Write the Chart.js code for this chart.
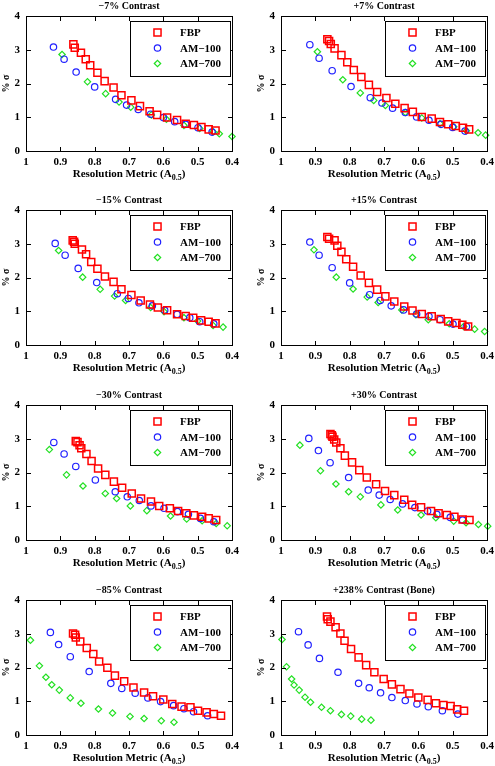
<!DOCTYPE html>
<html>
<head>
<meta charset="utf-8">
<script src="https://cdn.jsdelivr.net/npm/chart.js@4.4.0/dist/chart.umd.min.js"></script>
<style>
body { margin: 0; background: #fff; width: 495px; height: 766px; position: relative; overflow: hidden; }
canvas { position: absolute; }
.axbox { position: absolute; box-sizing: border-box; border: 1px solid #000; pointer-events: none; }
</style>
</head>
<body>
<script>
const seriesNames = ['FBP', 'AM\u2212100', 'AM\u2212700'];
const panelTitles = ['\u22127% Contrast', '+7% Contrast', '\u221215% Contrast', '+15% Contrast',
                     '\u221230% Contrast', '+30% Contrast', '\u221285% Contrast', '+238% Contrast (Bone)'];
const xTicks = [1, 0.9, 0.8, 0.7, 0.6, 0.5, 0.4];
const yTicks = [0, 1, 2, 3, 4];

// [resolution metric, % sigma]
const neg7_fbp = [[0.862,3.16],[0.858,3.06],[0.840,2.91],[0.826,2.72],[0.813,2.54],[0.792,2.32],[0.771,2.07],[0.745,1.88],[0.722,1.65],[0.693,1.50],[0.668,1.33],[0.640,1.18],[0.618,1.07],[0.589,0.99],[0.560,0.92],[0.535,0.81],[0.511,0.77],[0.489,0.71],[0.468,0.64],[0.448,0.61]];
const neg7_am100 = [[0.920,3.08],[0.889,2.72],[0.854,2.34],[0.800,1.90],[0.739,1.53],[0.707,1.36],[0.673,1.23],[0.637,1.09],[0.600,0.99],[0.567,0.87],[0.535,0.79],[0.499,0.69],[0.458,0.56]];
const neg7_am700 = [[0.895,2.86],[0.821,2.05],[0.768,1.70],[0.729,1.45],[0.695,1.30],[0.635,1.07],[0.591,0.94],[0.540,0.76],[0.494,0.67],[0.455,0.57],[0.437,0.51],[0.400,0.43]];

const pos7_fbp = [[0.865,3.31],[0.860,3.26],[0.855,3.17],[0.844,3.04],[0.824,2.84],[0.807,2.63],[0.788,2.40],[0.766,2.19],[0.744,1.96],[0.720,1.75],[0.693,1.57],[0.667,1.40],[0.640,1.27],[0.616,1.16],[0.590,1.01],[0.561,0.96],[0.537,0.86],[0.513,0.79],[0.491,0.74],[0.470,0.69],[0.452,0.64]];
const pos7_am100 = [[0.916,3.15],[0.889,2.75],[0.851,2.38],[0.796,1.91],[0.740,1.58],[0.706,1.42],[0.675,1.27],[0.638,1.14],[0.605,1.01],[0.569,0.91],[0.534,0.79],[0.500,0.70],[0.464,0.59]];
const pos7_am700 = [[0.894,2.94],[0.820,2.11],[0.769,1.72],[0.730,1.50],[0.696,1.35],[0.638,1.14],[0.590,0.98],[0.537,0.81],[0.497,0.72],[0.460,0.60],[0.426,0.54],[0.404,0.47]];

const neg15_fbp = [[0.864,3.10],[0.860,3.06],[0.858,3.00],[0.837,2.83],[0.825,2.69],[0.810,2.46],[0.792,2.26],[0.770,2.03],[0.745,1.87],[0.722,1.65],[0.693,1.48],[0.666,1.32],[0.639,1.20],[0.616,1.11],[0.589,1.03],[0.560,0.91],[0.535,0.86],[0.513,0.81],[0.490,0.73],[0.468,0.69],[0.448,0.64]];
const neg15_am100 = [[0.915,3.01],[0.886,2.66],[0.848,2.27],[0.794,1.85],[0.734,1.52],[0.702,1.38],[0.671,1.25],[0.632,1.16],[0.596,1.03],[0.560,0.91],[0.523,0.81],[0.494,0.69],[0.453,0.63]];
const neg15_am700 = [[0.905,2.80],[0.835,2.01],[0.784,1.65],[0.742,1.45],[0.710,1.32],[0.637,1.11],[0.598,0.99],[0.540,0.81],[0.500,0.71],[0.455,0.58],[0.426,0.53]];

const pos15_fbp = [[0.865,3.20],[0.860,3.15],[0.844,3.10],[0.836,2.94],[0.824,2.76],[0.810,2.54],[0.790,2.32],[0.768,2.06],[0.744,1.84],[0.720,1.64],[0.696,1.44],[0.670,1.29],[0.641,1.14],[0.617,1.02],[0.590,0.92],[0.561,0.85],[0.535,0.77],[0.513,0.70],[0.489,0.65],[0.472,0.60],[0.455,0.55]];
const pos15_am100 = [[0.916,3.05],[0.889,2.66],[0.851,2.29],[0.800,1.84],[0.742,1.49],[0.711,1.32],[0.679,1.16],[0.643,1.04],[0.605,0.92],[0.569,0.85],[0.537,0.75],[0.499,0.62],[0.460,0.55]];
const pos15_am700 = [[0.904,2.82],[0.839,2.01],[0.790,1.66],[0.749,1.42],[0.717,1.26],[0.648,1.04],[0.607,0.90],[0.571,0.75],[0.510,0.63],[0.468,0.55],[0.436,0.47],[0.407,0.40]];

const neg30_fbp = [[0.855,2.93],[0.850,2.90],[0.844,2.81],[0.839,2.72],[0.824,2.55],[0.809,2.34],[0.790,2.12],[0.769,1.93],[0.744,1.73],[0.720,1.55],[0.692,1.38],[0.665,1.23],[0.636,1.14],[0.612,1.01],[0.581,0.94],[0.557,0.86],[0.533,0.79],[0.511,0.73],[0.487,0.69],[0.468,0.64],[0.446,0.59]];
const neg30_am100 = [[0.919,2.89],[0.889,2.55],[0.855,2.18],[0.798,1.78],[0.740,1.43],[0.705,1.28],[0.670,1.17],[0.636,1.01],[0.598,0.94],[0.559,0.84],[0.527,0.76],[0.492,0.64],[0.453,0.54]];
const neg30_am700 = [[0.932,2.68],[0.882,1.93],[0.834,1.60],[0.769,1.38],[0.736,1.23],[0.696,1.01],[0.648,0.87],[0.579,0.71],[0.532,0.62],[0.487,0.57],[0.446,0.49],[0.414,0.42]];

const pos30_fbp = [[0.856,3.14],[0.852,3.10],[0.850,3.06],[0.845,2.98],[0.839,2.89],[0.827,2.72],[0.814,2.50],[0.793,2.30],[0.772,2.07],[0.750,1.85],[0.723,1.65],[0.697,1.45],[0.670,1.33],[0.641,1.19],[0.618,1.04],[0.592,0.97],[0.563,0.86],[0.541,0.79],[0.517,0.74],[0.495,0.69],[0.471,0.61],[0.451,0.59]];
const pos30_am100 = [[0.919,3.01],[0.891,2.65],[0.857,2.29],[0.803,1.85],[0.746,1.48],[0.714,1.33],[0.682,1.20],[0.646,1.07],[0.610,0.96],[0.573,0.86],[0.546,0.76],[0.507,0.67],[0.471,0.59]];
const pos30_am700 = [[0.945,2.81],[0.885,2.05],[0.840,1.66],[0.803,1.43],[0.769,1.28],[0.709,1.04],[0.660,0.89],[0.592,0.74],[0.549,0.66],[0.497,0.56],[0.461,0.51],[0.425,0.46],[0.398,0.41]];

const neg85_fbp = [[0.863,3.01],[0.857,2.97],[0.855,2.89],[0.842,2.77],[0.823,2.58],[0.804,2.40],[0.787,2.18],[0.763,1.99],[0.741,1.76],[0.714,1.59],[0.687,1.41],[0.656,1.26],[0.630,1.15],[0.600,1.05],[0.574,0.92],[0.547,0.84],[0.521,0.82],[0.499,0.72],[0.474,0.67],[0.453,0.62],[0.432,0.57]];
const neg85_am100 = [[0.929,3.04],[0.905,2.68],[0.871,2.32],[0.816,1.88],[0.753,1.53],[0.721,1.38],[0.682,1.24],[0.645,1.10],[0.608,0.99],[0.570,0.87],[0.540,0.78],[0.512,0.69],[0.471,0.57]];
const neg85_am700 = [[0.987,2.81],[0.961,2.05],[0.942,1.71],[0.925,1.49],[0.903,1.33],[0.871,1.10],[0.840,0.94],[0.789,0.77],[0.748,0.65],[0.697,0.55],[0.656,0.49],[0.606,0.42],[0.569,0.38]];

const bone_fbp = [[0.866,3.51],[0.864,3.43],[0.856,3.36],[0.841,3.19],[0.827,3.01],[0.815,2.79],[0.796,2.55],[0.774,2.30],[0.752,2.07],[0.728,1.86],[0.701,1.66],[0.677,1.50],[0.652,1.36],[0.626,1.23],[0.600,1.11],[0.573,1.04],[0.549,0.94],[0.527,0.89],[0.506,0.86],[0.487,0.76],[0.467,0.72]];
const bone_am100 = [[0.949,3.06],[0.921,2.67],[0.888,2.27],[0.834,1.86],[0.774,1.53],[0.743,1.40],[0.710,1.25],[0.677,1.11],[0.638,1.02],[0.604,0.92],[0.571,0.84],[0.530,0.72],[0.485,0.62]];
const bone_am700 = [[0.997,2.83],[0.984,2.02],[0.969,1.66],[0.962,1.48],[0.947,1.33],[0.930,1.12],[0.914,0.97],[0.882,0.82],[0.856,0.72],[0.824,0.61],[0.797,0.56],[0.765,0.47],[0.738,0.44]];

const panelData = [
    [neg7_fbp, neg7_am100, neg7_am700], [pos7_fbp, pos7_am100, pos7_am700],
    [neg15_fbp, neg15_am100, neg15_am700], [pos15_fbp, pos15_am100, pos15_am700],
    [neg30_fbp, neg30_am100, neg30_am700], [pos30_fbp, pos30_am100, pos30_am700],
    [neg85_fbp, neg85_am100, neg85_am700], [bone_fbp, bone_am100, bone_am700]
];

// layout of the 2x4 grid (page pixels)
const colX0 = [0, 247], colW = [247, 254], plotL = [26, 281], plotR = [232, 487];
const rowY0 = [0, 194, 389, 584], rowH = [194, 195, 195, 182];
const plotT = [16, 210, 405, 600], plotB = [151, 345, 540, 735];

const serif = '"Liberation Serif", "Times New Roman", serif';
const markerStyles = [
    { pointStyle: 'rect', pointRadius: 5, borderColor: '#ff0000', borderWidth: 1.5 },
    { pointStyle: 'circle', pointRadius: 3.2, borderColor: '#2020ff', borderWidth: 1.2 },
    { pointStyle: 'rectRot', pointRadius: 3.2, borderColor: '#22e022', borderWidth: 1.2 }
];

const matlabFrame = {
    id: 'matlabFrame',
    afterDraw(chart, args, opts) {
        const { ctx, chartArea: a, scales } = chart;
        const left = Math.round(a.left), right = Math.round(a.right);
        const top = Math.round(a.top), bottom = Math.round(a.bottom);

        // inward tick marks
        ctx.save();
        ctx.fillStyle = '#000';
        xTicks.forEach(v => {
            const px = Math.round(scales.x.getPixelForValue(v));
            ctx.fillRect(px, bottom - 4, 1, 4);
            ctx.fillRect(px, top + 1, 1, 4);
        });
        yTicks.forEach(v => {
            const py = Math.round(scales.y.getPixelForValue(v));
            ctx.fillRect(left + 1, py, 4, 1);
            ctx.fillRect(right - 4, py, 4, 1);
        });
        ctx.restore();

        // legend box
        ctx.save();
        const bw = 100, bh = 55;
        const bx = Math.round(a.right - 2 - bw), by = Math.round(a.top + 5);
        ctx.fillStyle = '#fff';
        ctx.fillRect(bx, by, bw, bh);
        ctx.fillStyle = '#000';
        ctx.fillRect(bx, by, bw + 1, 1);
        ctx.fillRect(bx, by + bh, bw + 1, 1);
        ctx.fillRect(bx, by, 1, bh + 1);
        ctx.fillRect(bx + bw, by, 1, bh + 1);
        ctx.font = 'bold 11px ' + serif;
        ctx.textBaseline = 'middle';
        ctx.textAlign = 'left';
        chart.data.datasets.forEach((ds, i) => {
            const ry = by + 11.5 + i * 15.5;
            ctx.strokeStyle = ds.borderColor;
            ctx.fillStyle = 'rgba(0,0,0,0)';
            ctx.lineWidth = ds.borderWidth;
            Chart.helpers.drawPoint(ctx, { pointStyle: ds.pointStyle, radius: ds.pointRadius, borderWidth: ds.borderWidth, rotation: 0 }, bx + 27.5, ry);
            ctx.fillStyle = '#000';
            ctx.fillText(ds.label, bx + 50, ry + 1);
        });
        ctx.restore();

        // panel title
        ctx.save();
        ctx.fillStyle = '#000';
        ctx.textAlign = 'center';
        ctx.textBaseline = 'middle';
        ctx.font = 'bold 10px ' + serif;
        const cx = (a.left + a.right) / 2;
        ctx.fillText(opts.title, cx, a.top - 10);

        // x axis title with subscript
        const main = 'bold 11px ' + serif, sub = 'bold 8px ' + serif;
        const p1 = 'Resolution Metric (A', p2 = '0.5', p3 = ')';
        ctx.font = main; const w1 = ctx.measureText(p1).width, w3 = ctx.measureText(p3).width;
        ctx.font = sub; const w2 = ctx.measureText(p2).width;
        let x = cx - (w1 + w2 + w3) / 2;
        const y = a.bottom + 23;
        ctx.textAlign = 'left';
        ctx.font = main; ctx.fillText(p1, x, y); x += w1;
        ctx.font = sub; ctx.fillText(p2, x, y + 4); x += w2;
        ctx.font = main; ctx.fillText(p3, x, y);

        // y axis title
        ctx.translate(a.left - 20, (a.top + a.bottom) / 2);
        ctx.rotate(-Math.PI / 2);
        ctx.textAlign = 'center';
        ctx.font = 'bold 10px ' + serif;
        ctx.fillText('% \u03c3', 0, 0);
        ctx.restore();
    }
};

const charts = [];
panelData.forEach((series, p) => {
    const col = p % 2, row = Math.floor(p / 2);
    const canvas = document.createElement('canvas');
    canvas.width = colW[col];
    canvas.height = rowH[row];
    canvas.style.left = colX0[col] + 'px';
    canvas.style.top = rowY0[row] + 'px';
    canvas.style.width = colW[col] + 'px';
    canvas.style.height = rowH[row] + 'px';
    document.body.appendChild(canvas);

    const yAxisW = plotL[col] - colX0[col];
    const xAxisH = rowY0[row] + rowH[row] - plotB[row];

    const chart = new Chart(canvas, {
        type: 'scatter',
        data: {
            datasets: series.map((pts, i) => ({
                label: seriesNames[i],
                data: pts.map(([x, y]) => ({ x, y })),
                pointStyle: markerStyles[i].pointStyle,
                pointRadius: markerStyles[i].pointRadius,
                borderColor: markerStyles[i].borderColor,
                borderWidth: markerStyles[i].borderWidth,
                backgroundColor: 'rgba(0,0,0,0)',
                clip: false
            }))
        },
        options: {
            animation: false,
            responsive: false,
            devicePixelRatio: 1,
            events: [],
            layout: { padding: { top: plotT[row] - rowY0[row], right: colX0[col] + colW[col] - plotR[col], left: 0, bottom: 0 } },
            scales: {
                x: {
                    type: 'linear', reverse: true, min: 0.4, max: 1,
                    afterBuildTicks: s => { s.ticks = xTicks.map(v => ({ value: v })); },
                    afterFit: s => { s.height = xAxisH; },
                    grid: { display: false, drawTicks: false },
                    border: { display: false },
                    ticks: {
                        autoSkip: false, maxRotation: 0, padding: 5, color: '#000',
                        font: { family: serif, size: 11, weight: 'bold' },
                        callback: v => (v === 1 ? '1' : v.toFixed(1))
                    }
                },
                y: {
                    type: 'linear', min: 0, max: 4,
                    afterBuildTicks: s => { s.ticks = yTicks.map(v => ({ value: v })); },
                    afterFit: s => { s.width = yAxisW; },
                    grid: { display: false, drawTicks: false },
                    border: { display: false },
                    ticks: {
                        autoSkip: false, padding: 6, color: '#000',
                        font: { family: serif, size: 11, weight: 'bold' },
                        callback: v => String(v)
                    }
                }
            },
            plugins: {
                legend: { display: false },
                tooltip: { enabled: false },
                matlabFrame: { title: panelTitles[p] }
            }
        },
        plugins: [matlabFrame]
    });
    charts.push({ chart, col, row });
});

// axes box: a bordered overlay placed on each chart's computed plot area
charts.forEach(({ chart, col, row }) => {
    const a = chart.chartArea;
    const box = document.createElement('div');
    box.className = 'axbox';
    box.style.left = (colX0[col] + Math.round(a.left)) + 'px';
    box.style.top = (rowY0[row] + Math.round(a.top)) + 'px';
    box.style.width = (Math.round(a.right) - Math.round(a.left) + 1) + 'px';
    box.style.height = (Math.round(a.bottom) - Math.round(a.top) + 1) + 'px';
    document.body.appendChild(box);
});
</script>
</body>
</html>
